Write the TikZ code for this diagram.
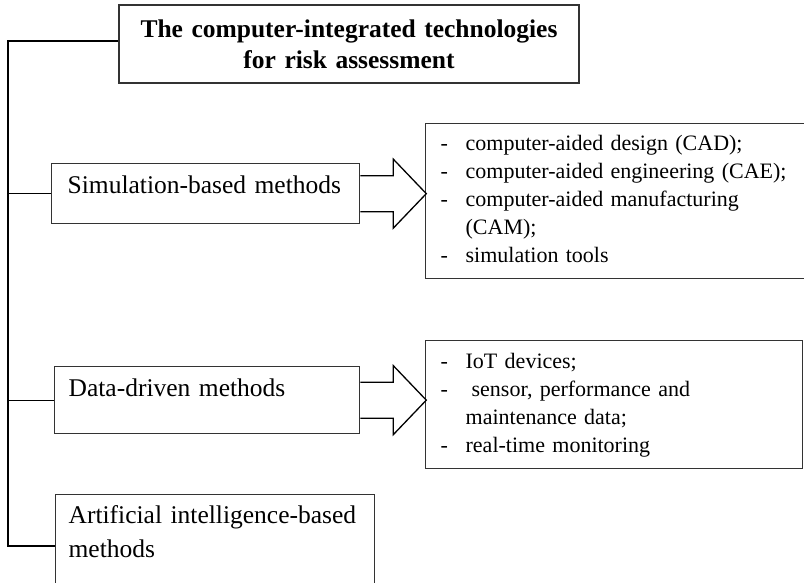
\documentclass[tikz,border=0pt]{standalone}
\usepackage{fontspec}
\setmainfont{Liberation Serif}
\usetikzlibrary{positioning}

% list line with a dash in front and hanging second lines
\newcommand{\dashitem}[1]{\hangindent=25pt\hangafter=1\noindent\makebox[25pt][l]{-}#1\par}

\tikzset{
    boxline/.style={draw=black!80, line width=1.3pt},
    headbox/.style={boxline, line width=1.8pt, align=center, inner sep=0pt,
        font=\bfseries\fontsize{25.5}{31}\selectfont},
    methodbox/.style={boxline, anchor=north west, align=left, inner ysep=0pt,
        font=\fontsize{25.5}{34}\selectfont},
    listbox/.style={boxline, anchor=north west, align=left, inner ysep=0pt, inner xsep=15pt,
        font=\fontsize{22}{28}\selectfont},
    trunk/.style={line width=1.3pt, black},
    blockarrow/.style={line width=1.3pt, black, line join=miter}
}

\begin{document}
\begin{tikzpicture}[x=1pt, y=-1pt]

\useasboundingbox (0,0) rectangle (804,582);
\clip (0,0) rectangle (804,582);

% --- Title ---
\node[headbox, text width=440pt, minimum width=460pt, minimum height=78pt] (title) at (349,44)
    {The computer-integrated technologies\\for risk assessment};

% --- Method boxes ---
\node[methodbox, inner xsep=16pt, text width=276pt, text height=30pt, text depth=30pt] (sim) at (51,163)
    {Simulation-based methods};
\node[methodbox, inner xsep=14pt, text width=277pt, text height=30pt, text depth=37pt] (data) at (54,366)
    {Data-driven methods};
\node[methodbox, inner xsep=13pt, text width=293pt, text height=29pt, text depth=100pt] (ai) at (55,494)
    {Artificial intelligence-based\\methods};

% --- Tool lists ---
\node[listbox, text width=400pt, text height=27pt, text depth=128pt] (simlist) at (425,123)
    {\dashitem{computer-aided design (CAD);}%
     \dashitem{computer-aided engineering (CAE);}%
     \dashitem{computer-aided manufacturing\hfil\break(CAM);}%
     \dashitem{simulation tools}};
\node[listbox, text width=347pt, text height=28pt, text depth=100pt] (datalist) at (425,340)
    {\dashitem{IoT devices;}%
     \dashitem{\hspace{6pt}sensor, performance and\hfil\break maintenance data;}%
     \dashitem{real-time monitoring}};

% --- Tree lines on the left ---
\coordinate (top) at (8,41);
\coordinate (bot) at (8,546);
\draw[trunk] (top -| title.west) -- (top) -- (bot) -- (bot -| ai.west);
\draw[trunk] (sim.west) -- (sim.west -| top);
\draw[trunk] (data.west) -- (data.west -| top);

% --- Block arrows to the lists ---
\draw[blockarrow] (sim.east) ++(0,-18) -- ++(33,0) -- ++(0,-16.5) -- ++(33,34.5)
    -- ++(-33,34.5) -- ++(0,-16.5) -- ++(-33,0);
\draw[blockarrow] (data.east) ++(0,-18) -- ++(33,0) -- ++(0,-16.5) -- ++(33,34.5)
    -- ++(-33,34.5) -- ++(0,-16.5) -- ++(-33,0);

\end{tikzpicture}
\end{document}
